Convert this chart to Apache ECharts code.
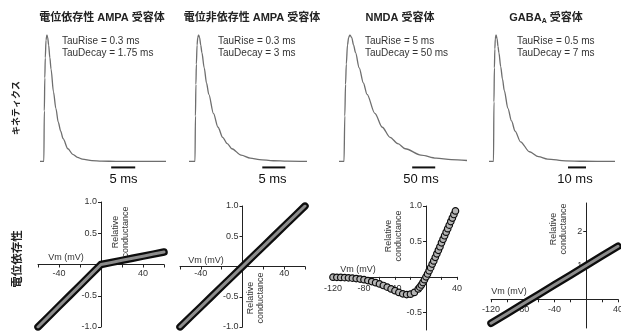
<!DOCTYPE html>
<html>
<head>
<meta charset="utf-8">
<script src="https://cdn.jsdelivr.net/npm/echarts@6.0.0/dist/echarts.min.js"></script>
<style>
  html, body { margin: 0; padding: 0; background: #fff; }
  #chart { width: 621px; height: 332px; }
</style>
</head>
<body>
<div id="chart"></div>
<script>
// ---- kinetics (top row), time in ms, normalised conductance ----
const ampaVdT = [-0.8, 0, 0.1, 0.2, 0.3, 0.45, 0.64, 0.8, 1.0, 1.25, 1.5, 2, 2.5, 3, 3.5, 4, 5, 6, 7, 8, 10, 12, 15, 20, 25.4];
const ampaVdG = [0, 0, 0.4, 0.66, 0.82, 0.96, 1.0, 0.98, 0.92, 0.82, 0.73, 0.55, 0.42, 0.31, 0.24, 0.18, 0.1, 0.056, 0.032, 0.018, 0.006, 0.002, 0, 0, 0];
const ampaViT = [-1.3, 0, 0.1, 0.2, 0.3, 0.45, 0.6, 0.77, 1.0, 1.25, 1.5, 2, 2.5, 3, 4, 5, 6, 7, 8, 10, 12, 14, 17, 20, 24.3];
const ampaViG = [0, 0, 0.36, 0.61, 0.77, 0.92, 0.98, 1.0, 0.98, 0.92, 0.86, 0.74, 0.62, 0.53, 0.38, 0.27, 0.19, 0.14, 0.1, 0.05, 0.026, 0.014, 0.005, 0.002, 0];
const nmdaT = [-10.9, 0, 1.7, 3.3, 5, 7.5, 10, 12.8, 16.7, 20.8, 25, 33, 42, 50, 67, 83, 100, 117, 133, 167, 200, 233, 267];
const nmdaG = [0, 0, 0.36, 0.61, 0.77, 0.92, 0.98, 1.0, 0.98, 0.92, 0.86, 0.74, 0.62, 0.53, 0.38, 0.27, 0.19, 0.14, 0.1, 0.05, 0.026, 0.014, 0.007];
const gabaT = [-2.5, 0, 0.25, 0.5, 0.75, 1.0, 1.42, 2, 2.5, 3, 4, 5, 6, 8, 10, 12, 15, 20, 25, 30, 40, 50, 67.5];
const gabaG = [0, 0, 0.47, 0.74, 0.89, 0.97, 1.0, 0.97, 0.91, 0.86, 0.75, 0.65, 0.56, 0.42, 0.32, 0.24, 0.155, 0.076, 0.037, 0.018, 0.004, 0.001, 0];

const titles = ['電位依存性 AMPA 受容体', '電位非依存性 AMPA 受容体', 'NMDA 受容体', 'GABA'];
const tauRise = ['0.3', '0.3', '5', '0.5'];
const tauDecay = ['1.75', '3', '50', '7'];
const scaleStart = [14, 14.6, 148, 41.4];
const scaleLen = [5, 5, 50, 10];
const scaleText = ['5 ms', '5 ms', '50 ms', '10 ms'];

// ---- voltage dependence (bottom row), Vm in mV, relative conductance ----
const linVm = [-60, -50, -40, -30, -20, -10, 0, 10, 20, 30, 40, 50, 60];
const ampaVdIV = [-1, -0.833, -0.667, -0.5, -0.333, -0.167, 0, 0.033, 0.067, 0.1, 0.133, 0.167, 0.2];
const ampaViIV = [-1, -0.833, -0.667, -0.5, -0.333, -0.167, 0, 0.167, 0.333, 0.5, 0.667, 0.833, 1.0];
const nmdaVm = [-120, -115, -110, -105, -100, -95, -90, -85, -80, -75, -70, -65, -60, -55, -50, -45, -40, -35, -30, -25, -20, -15, -10,
  -8, -6, -4, -2, 0, 2, 4, 6, 8, 10, 12, 14, 16, 18, 20, 22, 24, 26, 28, 30, 32, 34, 36, 38];
const nmdaIV = [-0.005, -0.006, -0.008, -0.011, -0.014, -0.018, -0.024, -0.031, -0.04, -0.052, -0.066, -0.082, -0.1, -0.122, -0.145, -0.17, -0.195, -0.22, -0.24, -0.25, -0.245, -0.22, -0.17,
  -0.145, -0.115, -0.08, -0.04, 0, 0.04, 0.085, 0.13, 0.18, 0.225, 0.275, 0.325, 0.375, 0.425, 0.48, 0.53, 0.58, 0.63, 0.68, 0.73, 0.78, 0.83, 0.88, 0.93];
const gabaVm = [-120, -100, -80, -60, -40, -20, 0, 20, 40];
const gabaIV = [-0.71, -0.43, -0.14, 0.14, 0.43, 0.71, 1.0, 1.29, 1.57];

const FONT = "'Liberation Sans', 'Noto Sans CJK JP', sans-serif";
const pairs = (xs, ys) => xs.map((x, i) => [x, ys[i]]);

const chart = echarts.init(document.getElementById('chart'), null, { renderer: 'canvas' });

const grids = [
    { left: 40, top: 35, width: 126, height: 139 },
    { left: 189, top: 35, width: 118, height: 139 },
    { left: 339, top: 35, width: 128, height: 139 },
    { left: 489, top: 35, width: 126, height: 139 },
    { left: 38, top: 202, width: 126, height: 125 },
    { left: 180, top: 206, width: 125, height: 121 },
    { left: 333, top: 206, width: 124, height: 124 },
    { left: 491, top: 203, width: 127, height: 125 }
].map(g => Object.assign({ containLabel: false, outerBoundsMode: 'none' }, g));

const xRanges = [[-0.8, 25.4], [-1.3, 24.3], [-10.9, 267], [-2.5, 67.5]];

const xAxes = [];
const yAxes = [];
xRanges.forEach((r, i) => {
    xAxes.push({ gridIndex: i, type: 'value', min: r[0], max: r[1], show: false });
    yAxes.push({ gridIndex: i, type: 'value', min: -0.1, max: 1, show: false });
});

// axes crossing at the origin: shift the edge axes onto zero with an offset
function bottomAxes(i, xr, xTicks, xLabels, yr, yTicks, yLabels, yFmt, xMargin) {
    const g = grids[i];
    const line = { onZero: false, lineStyle: { color: '#222', width: 1 } };
    xAxes.push({
        gridIndex: i, type: 'value', min: xr[0], max: xr[1], position: 'bottom',
        offset: -(0 - yr[0]) / (yr[1] - yr[0]) * g.height,
        axisLine: line,
        axisTick: { customValues: xTicks, length: 3, lineStyle: { color: '#222' } },
        axisLabel: { customValues: xLabels, fontSize: 9, color: '#333', margin: xMargin, fontFamily: FONT },
        splitLine: { show: false }
    });
    yAxes.push({
        gridIndex: i, type: 'value', min: yr[0], max: yr[1], position: 'left',
        offset: -(0 - xr[0]) / (xr[1] - xr[0]) * g.width,
        axisLine: line,
        axisTick: { customValues: yTicks, length: 3, lineStyle: { color: '#222' } },
        axisLabel: { customValues: yLabels, fontSize: 9, color: '#333', margin: 4, fontFamily: FONT, formatter: yFmt },
        splitLine: { show: false }
    });
}

const fmt1 = v => v.toFixed(1);
bottomAxes(4, [-60, 60], [-60, -40, -20, 20, 40, 60], [-40, 40], [-1, 1], [-1, -0.5, 0.5, 1], [-1, -0.5, 0.5, 1], fmt1, 5);
bottomAxes(5, [-60, 60], [-60, -40, -20, 20, 40, 60], [-40, 40], [-1, 1], [-1, -0.5, 0.5, 1], [-1, -0.5, 0.5, 1], fmt1, 3);
bottomAxes(6, [-120, 40], [-120, -100, -80, -60, -40, -20, 20, 40], [-120, -80, -40, 40], [-0.75, 1], [-0.5, 0.5, 1], [-0.5, 0.5, 1], fmt1, 7);
bottomAxes(7, [-120, 40], [-120, -100, -80, -60, -40, -20, 20, 40], [-120, -80, -40, 40], [-0.85, 2.85], [1, 2], [1, 2], v => String(v), 6);

const series = [];
const traces = [[ampaVdT, ampaVdG], [ampaViT, ampaViG], [nmdaT, nmdaG], [gabaT, gabaG]];
traces.forEach((tr, i) => {
    series.push({
        type: 'line', xAxisIndex: i, yAxisIndex: i, data: pairs(tr[0], tr[1]),
        symbol: 'none', smooth: 0.3, smoothMonotone: 'x',
        lineStyle: { color: '#6e6e6e', width: 1.3 }
    });
    series.push({
        type: 'line', xAxisIndex: i, yAxisIndex: i,
        data: [[scaleStart[i], -0.048], [scaleStart[i] + scaleLen[i], -0.048]],
        symbol: 'none', lineStyle: { color: '#111', width: 2 }
    });
});

// tube-like conductance curves
function tube(idx, xs, ys) {
    const d = pairs(xs, ys);
    series.push({
        type: 'line', xAxisIndex: idx, yAxisIndex: idx, data: d, symbol: 'none',
        lineStyle: { color: '#0d0d0d', width: 7.5, cap: 'round', join: 'round' }
    });
    series.push({
        type: 'line', xAxisIndex: idx, yAxisIndex: idx, data: d, symbol: 'none',
        lineStyle: { color: '#8c8c8c', width: 3, cap: 'round', join: 'round' }
    });
}
tube(4, linVm, ampaVdIV);
tube(5, linVm, ampaViIV);
tube(7, gabaVm, gabaIV);
series.push({
    type: 'scatter', xAxisIndex: 6, yAxisIndex: 6, data: pairs(nmdaVm, nmdaIV),
    symbol: 'circle', symbolSize: 6.5,
    itemStyle: { color: '#b4b4b4', borderColor: '#0d0d0d', borderWidth: 1.2, opacity: 1 }
});

// text
const graphic = [];
const titleX = [102, 252, 400, 546];
titles.forEach((t, i) => {
    if (i === 3) {
        graphic.push({
            type: 'text', x: titleX[i], y: 18,
            style: {
                text: '{n|GABA}{s|A}{n| 受容体}', align: 'center', verticalAlign: 'middle',
                rich: {
                    n: { fontSize: 11, fontWeight: 'bold', fontFamily: FONT, fill: '#222', lineHeight: 14 },
                    s: { fontSize: 7, fontWeight: 'bold', fontFamily: FONT, fill: '#222', verticalAlign: 'bottom', lineHeight: 10 }
                }
            }
        });
    } else {
        graphic.push({
            type: 'text', x: titleX[i], y: 18,
            style: { text: t, align: 'center', verticalAlign: 'middle', fill: '#222', font: 'bold 11px ' + FONT }
        });
    }
});
const tauX = [62, 218, 365, 517];
tauX.forEach((x, i) => {
    graphic.push({
        type: 'text', x: x, y: 41,
        style: { text: 'TauRise = ' + tauRise[i] + ' ms', align: 'left', verticalAlign: 'middle', fill: '#333', font: '10px ' + FONT }
    });
    graphic.push({
        type: 'text', x: x, y: 53,
        style: { text: 'TauDecay = ' + tauDecay[i] + ' ms', align: 'left', verticalAlign: 'middle', fill: '#333', font: '10px ' + FONT }
    });
});
const scaleX = [123.5, 272.5, 421, 575];
scaleX.forEach((x, i) => {
    graphic.push({
        type: 'text', x: x, y: 179,
        style: { text: scaleText[i], align: 'center', verticalAlign: 'middle', fill: '#111', font: '13px ' + FONT }
    });
});
graphic.push({
    type: 'text', x: 17, y: 108, rotation: Math.PI / 2,
    style: { text: 'キネティクス', align: 'center', verticalAlign: 'middle', fill: '#222', font: 'bold 9px ' + FONT }
});
graphic.push({
    type: 'text', x: 18, y: 259, rotation: Math.PI / 2,
    style: { text: '電位依存性', align: 'center', verticalAlign: 'middle', fill: '#222', font: 'bold 11.5px ' + FONT }
});
const vmPos = [[66, 258], [206, 261], [358, 270], [509, 292]];
vmPos.forEach(p => {
    graphic.push({
        type: 'text', x: p[0], y: p[1],
        style: { text: 'Vm (mV)', align: 'center', verticalAlign: 'middle', fill: '#333', font: '9px ' + FONT }
    });
});
const relPos = [[121, 232], [256, 298], [394, 236], [559, 229]];
relPos.forEach(p => {
    graphic.push({
        type: 'text', x: p[0], y: p[1], rotation: Math.PI / 2,
        style: { text: 'Relative\nconductance', align: 'center', verticalAlign: 'middle', fill: '#333', font: '9px ' + FONT, lineHeight: 10 }
    });
});

chart.setOption({
    backgroundColor: '#fff',
    animation: false,
    grid: grids,
    xAxis: xAxes,
    yAxis: yAxes,
    series: series,
    graphic: graphic
});
</script>
</body>
</html>
